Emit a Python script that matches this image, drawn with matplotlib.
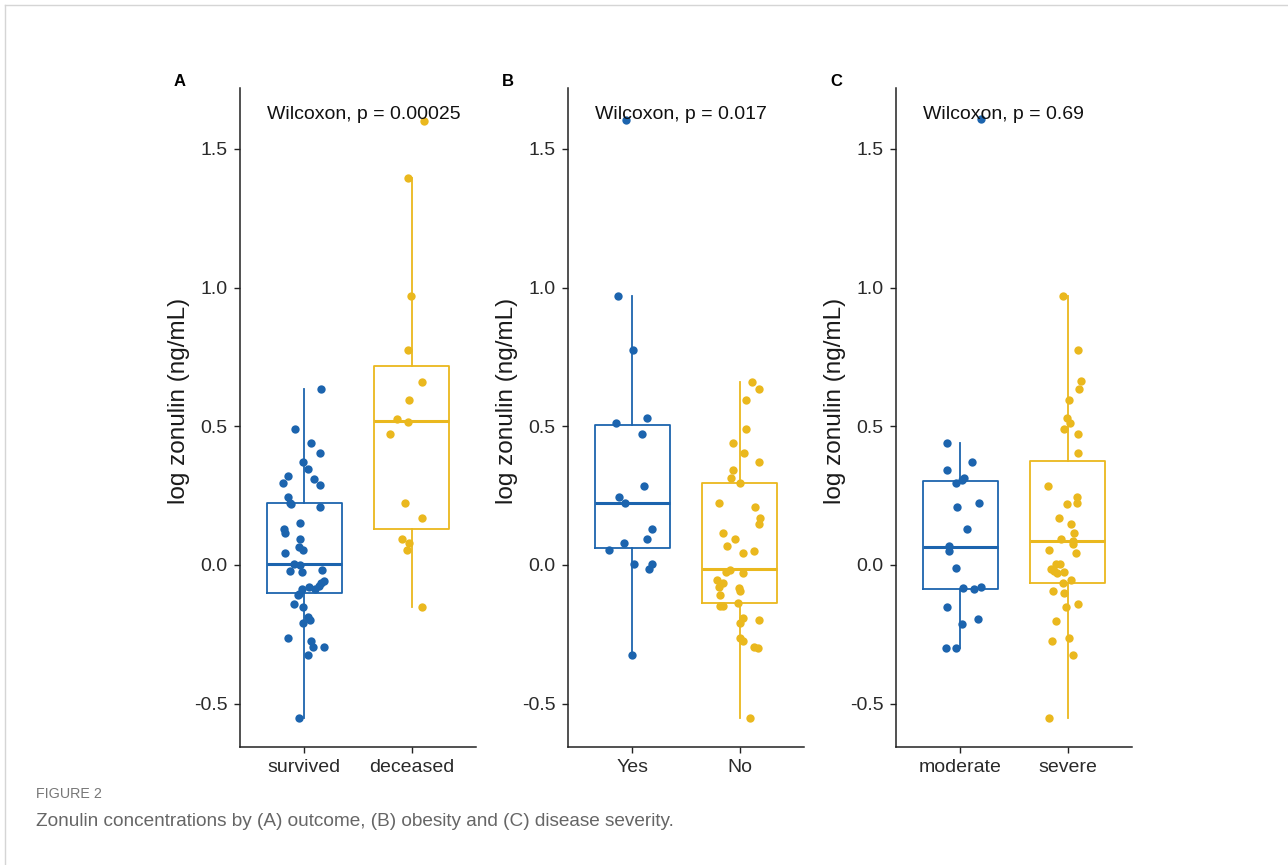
import matplotlib.pyplot as plt
from matplotlib.lines import Line2D

plt.rcParams['font.family'] = ['Liberation Sans', 'DejaVu Sans']

W, H = 1288, 865
blue = '#1c64ae'
gold = '#eab81e'

# ---- data (log zonulin, ng/mL) ----
# panel A: outcome
a_groups = ['survived', 'deceased']
a_surv = [0.633, 0.490, 0.438, 0.405, 0.372, 0.345, 0.321, 0.297, 0.311, 0.287,
          0.244, 0.223, 0.218, 0.210, 0.150, 0.131, 0.116, 0.093, 0.064, 0.054,
          0.044, 0.004, 0.000, -0.020, -0.026, -0.018, -0.056, -0.064, -0.076, -0.078,
          -0.088, -0.088, -0.105, -0.108, -0.141, -0.150, -0.189, -0.200, -0.210, -0.263,
          -0.273, -0.294, -0.294, -0.324, -0.553]
a_surv_jit = [0.157, -0.088, 0.06, 0.145, -0.013, 0.035, -0.151, -0.201, 0.094, 0.148,
              -0.151, -0.138, -0.126, 0.148, -0.041, -0.189, -0.176, -0.041, -0.050, -0.013,
              -0.176, -0.101, -0.041, -0.138, -0.025, 0.164, 0.182, 0.157, 0.132, 0.047,
              0.097, -0.025, -0.047, -0.063, -0.101, -0.013, 0.035, 0.053, -0.013, -0.151,
              0.06, 0.085, 0.186, 0.035, -0.050]
a_dec = [1.601, 1.395, 0.969, 0.775, 0.661, 0.595, 0.527, 0.514, 0.472, 0.225,
         0.168, 0.093, 0.078, 0.054, -0.150]
a_dec_jit = [0.113, -0.038, -0.01, -0.038, 0.10, -0.025, -0.132, -0.035, -0.198, -0.06,
             0.10, -0.088, -0.025, -0.044, 0.10]
# box stats: q1, median, q3, lower whisker, upper whisker
a_box = [(-0.102, 0.004, 0.2245, -0.553, 0.633), (0.130, 0.518, 0.718, -0.150, 1.395)]
a_p = 'Wilcoxon, p = 0.00025'

# panel B: obesity
b_groups = ['Yes', 'No']
b_yes = [1.604, 0.969, 0.775, 0.529, 0.513, 0.471, 0.286, 0.244, 0.222, 0.131,
         0.093, 0.078, 0.054, 0.002, 0.002, -0.013, -0.325]
b_yes_jit = [-0.057, -0.132, 0.006, 0.138, -0.157, 0.091, 0.113, -0.123, -0.066, 0.179,
             0.138, -0.082, -0.22, 0.019, 0.179, 0.151, -0.006]
b_no = [0.661, 0.633, 0.595, 0.490, 0.438, 0.405, 0.372, 0.342, 0.315, 0.297,
        0.225, 0.210, 0.168, 0.148, 0.114, 0.093, 0.068, 0.044, 0.049, -0.018,
        -0.024, -0.028, -0.054, -0.064, -0.078, -0.084, -0.093, -0.108, -0.138, -0.148,
        -0.148, -0.192, -0.200, -0.210, -0.264, -0.274, -0.295, -0.301, -0.553]
b_no_jit = [0.116, 0.179, 0.057, 0.057, -0.06, 0.041, 0.179, -0.06, -0.082, 0.006,
            -0.192, 0.145, 0.19, 0.179, -0.157, -0.044, -0.116, 0.028, 0.132, -0.094,
            -0.129, 0.028, -0.208, -0.157, -0.195, -0.009, 0.0, -0.179, -0.016, -0.179,
            -0.151, 0.028, 0.179, 0.0, 0.006, 0.028, 0.132, 0.17, 0.094]
b_box = [(0.060, 0.225, 0.505, -0.325, 0.969), (-0.138, -0.013, 0.297, -0.553, 0.661)]
b_p = 'Wilcoxon, p = 0.017'

# panel C: disease severity
c_groups = ['moderate', 'severe']
c_mod = [1.607, 0.438, 0.371, 0.342, 0.313, 0.306, 0.297, 0.225, 0.210, 0.130,
         0.068, 0.049, -0.012, -0.078, -0.084, -0.088, -0.150, -0.193, -0.211, -0.298,
         -0.298]
c_mod_jit = [0.189, -0.12, 0.113, -0.12, 0.038, 0.016, -0.044, 0.176, -0.035, 0.066,
             -0.107, -0.107, -0.044, 0.189, 0.025, 0.123, -0.12, 0.163, 0.016, -0.132,
             -0.044]
c_sev = [0.970, 0.775, 0.662, 0.633, 0.595, 0.529, 0.513, 0.490, 0.471, 0.405,
         0.286, 0.244, 0.225, 0.220, 0.168, 0.148, 0.116, 0.094, 0.088, 0.076,
         0.054, 0.044, 0.004, 0.004, -0.016, -0.020, -0.028, -0.024, -0.064, -0.054,
         -0.093, -0.102, -0.139, -0.150, -0.202, -0.273, -0.264, -0.325, -0.553]
c_sev_jit = [-0.044, 0.1, 0.123, 0.11, 0.012, -0.003, 0.025, -0.038, 0.1, 0.1,
             -0.186, 0.088, 0.088, -0.003, -0.085, 0.035, 0.06, -0.063, 0.05, 0.05,
             -0.173, 0.075, -0.11, -0.075, -0.151, -0.126, -0.097, -0.038, -0.04, 0.035,
             -0.138, -0.038, 0.1, -0.016, -0.113, -0.148, 0.013, 0.047, -0.173]
c_box = [(-0.088, 0.066, 0.304, -0.298, 0.438), (-0.065, 0.085, 0.376, -0.553, 0.970)]
c_p = 'Wilcoxon, p = 0.69'

y_ticks = [-0.5, 0.0, 0.5, 1.0, 1.5]
caption_head = 'FIGURE 2'
caption = 'Zonulin concentrations by (A) outcome, (B) obesity and (C) disease severity.'


def px_rect(x0, y0, w, h):
    return [x0 / W, 1 - (y0 + h) / H, w / W, h / H]


def draw_panel(ax, groups, values, jitters, boxes, ptext):
    colors = [blue, gold]
    for i, (vals, jit, box, col) in enumerate(zip(values, jitters, boxes, colors)):
        pos = i + 1
        q1, med, q3, lo, hi = box
        stats = [dict(q1=q1, med=med, q3=q3, whislo=lo, whishi=hi, fliers=[])]
        ax.bxp(stats, positions=[pos], widths=0.7, showcaps=False, showfliers=False,
               boxprops=dict(color=col, lw=1.3),
               whiskerprops=dict(color=col, lw=1.3),
               medianprops=dict(color=col, lw=2.2))
        ax.scatter([pos + d for d in jit], vals, s=36, color=col, lw=0, zorder=3)

    ax.set_xlim(0.4, 2.6)
    ax.set_ylim(-0.656, 1.719)
    ax.set_xticks([1, 2])
    ax.set_xticklabels(groups)
    ax.set_yticks(y_ticks)
    ax.set_yticklabels(['%.1f' % t for t in y_ticks])
    for s in ['top', 'right']:
        ax.spines[s].set_visible(False)
    for s in ['left', 'bottom']:
        ax.spines[s].set_color('#222222')
        ax.spines[s].set_linewidth(1.1)
    ax.tick_params(axis='both', length=4, width=1.0, color='#222222',
                   labelsize=14, labelcolor='#2a2a2a', pad=5)
    ax.set_ylabel('log zonulin (ng/mL)', fontsize=17.5, color='#1a1a1a')
    ax.yaxis.set_label_coords(-0.21, 0.525)
    ax.text(0.65, 1.625, ptext, fontsize=14, va='center', ha='left', color='#111111')


fig = plt.figure(figsize=(W / 100, H / 100), dpi=100)

panels = [
    (240, 'A', a_groups, [a_surv, a_dec], [a_surv_jit, a_dec_jit], a_box, a_p),
    (568, 'B', b_groups, [b_yes, b_no], [b_yes_jit, b_no_jit], b_box, b_p),
    (896, 'C', c_groups, [c_mod, c_sev], [c_mod_jit, c_sev_jit], c_box, c_p),
]
for x0, letter, groups, values, jitters, boxes, ptext in panels:
    ax = fig.add_axes(px_rect(x0, 88, 236, 659))
    draw_panel(ax, groups, values, jitters, boxes, ptext)
    fig.text((x0 - 60) / W, 1 - 82 / H, letter, fontsize=12, fontweight='bold',
             ha='center', va='center', color='black')

# caption
fig.text(36 / W, 1 - 794 / H, caption_head, fontsize=10.3, color='#777777', va='center')
fig.text(36 / W, 1 - 822 / H, caption, fontsize=13.7, color='#666666', va='center')

# page frame
fig.add_artist(Line2D([5 / W, 5 / W], [0, 1 - 5 / H], color='#d5d5d5', lw=1))
fig.add_artist(Line2D([5 / W, 1], [1 - 5 / H, 1 - 5 / H], color='#d5d5d5', lw=1))

fig.savefig('out.png', dpi=100)
